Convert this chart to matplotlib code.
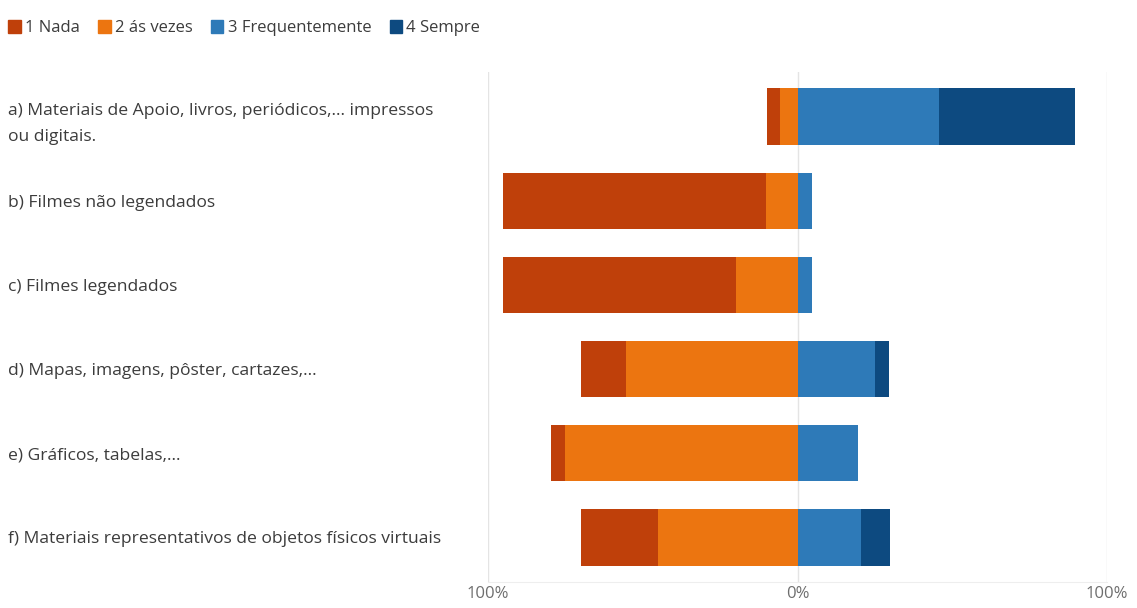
import numpy as np
import matplotlib.pyplot as plt
from matplotlib.patches import Patch

plt.rcParams['font.family'] = ['Open Sans', 'DejaVu Sans']

# data (percent of answers)
items = ['a) Materiais de Apoio, livros, periódicos,... impressos\nou digitais.',
         'b) Filmes não legendados',
         'c) Filmes legendados',
         'd) Mapas, imagens, pôster, cartazes,...',
         'e) Gráficos, tabelas,...',
         'f) Materiais representativos de objetos físicos virtuais']
nada = np.array([4.4, 84.7, 75.0, 14.5, 4.8, 24.6])
as_vezes = np.array([5.5, 10.3, 20.0, 55.3, 75.0, 45.2])
frequente = np.array([45.6, 4.8, 4.8, 25.2, 19.7, 20.4])
sempre = np.array([44.1, 0.0, 0.0, 4.5, 0.0, 9.4])
series_names = ['1 Nada', '2 ás vezes', '3 Frequentemente', '4 Sempre']
colors = ['#BF400A', '#EC7510', '#2E7AB8', '#0D4A80']
xticks = [-100, 0, 100]
xticklabels = ['100%', '0%', '100%']

W, H = 1137, 608
fig = plt.figure(figsize=(W/100, H/100), dpi=100)
ax = fig.add_axes([488/W, 1-582/H, (1107-488)/W, (582-72)/H])

y = np.arange(len(items))
h = 0.67
ax.barh(y, -as_vezes, height=h, color=colors[1], zorder=3)
ax.barh(y, -nada, left=-as_vezes, height=h, color=colors[0], zorder=3)
ax.barh(y, frequente, height=h, color=colors[2], zorder=3)
ax.barh(y, sempre, left=frequente, height=h, color=colors[3], zorder=3)

ax.set_xlim(-100, 100)
ax.set_ylim(len(items)-0.47, -0.53)
ax.set_xticks(xticks)
ax.set_xticklabels(xticklabels, color='#6E6E6E', fontsize=12)
ax.set_yticks(y)
ax.set_yticklabels(items, color='#3C3C3C', fontsize=12.6, ha='left', linespacing=1.85)
ax.tick_params(axis='y', length=0, pad=(488-8)*0.72)
ax.tick_params(axis='x', length=0, pad=3)
ax.grid(axis='x', color='#E4E4E4', linewidth=1, zorder=0)
for s in ['top', 'left', 'right']:
    ax.spines[s].set_visible(False)
ax.spines['bottom'].set_color('#EEEEEE')

handles = [Patch(color=c, label=n) for c, n in zip(colors, series_names)]
fig.legend(handles=handles, loc='upper left', bbox_to_anchor=(0.0, 1.0 - 12/H),
           ncol=4, frameon=False, fontsize=12, handlelength=0.75, handleheight=0.75,
           handletextpad=0.25, columnspacing=1.1, labelcolor='#3C3C3C',
           borderaxespad=0.1)

fig.savefig('out.png', dpi=100)
